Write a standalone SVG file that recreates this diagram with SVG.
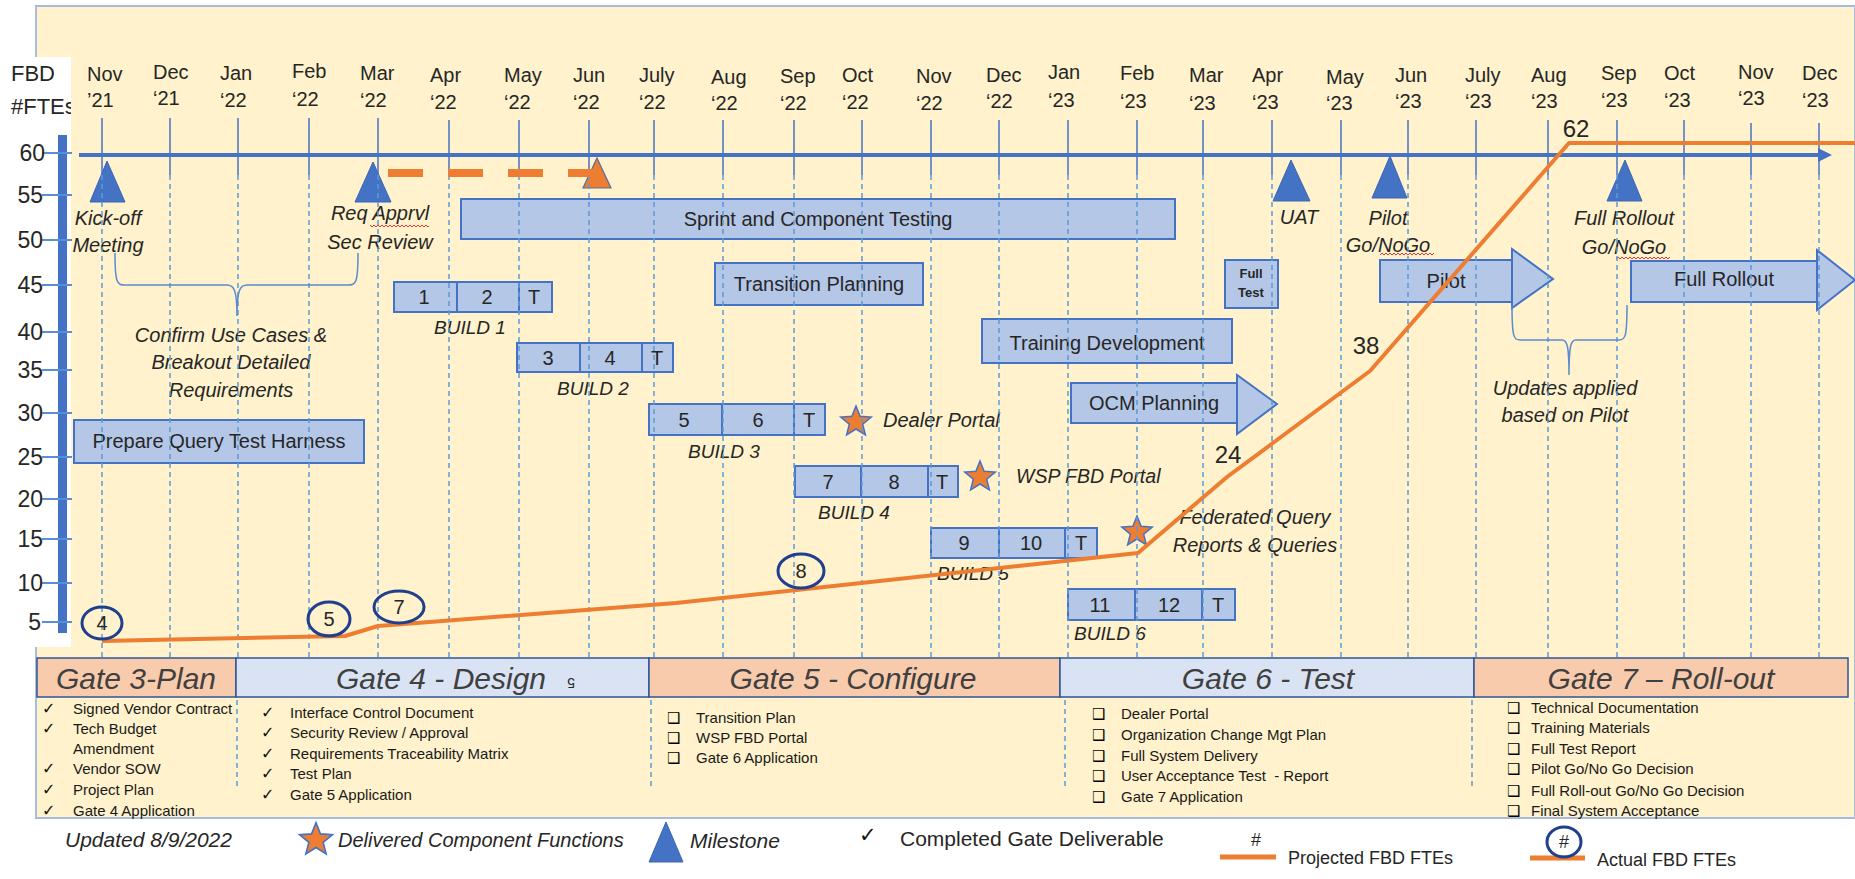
<svg xmlns="http://www.w3.org/2000/svg" width="1855" height="879" viewBox="0 0 1855 879">
<defs>
<style>
text{font-family:"Liberation Sans",Arial,sans-serif;fill:#262626}
.m{font-size:20px}
.yl{font-size:23px;text-anchor:end}
.box{fill:#B4C7E7;stroke:#4472C4;stroke-width:2}
.bt{font-size:20px;text-anchor:middle}
.ml{font-size:20px;font-style:italic;text-anchor:middle}
.bl{font-size:19px;font-style:italic;text-anchor:middle}
.tri{fill:#4472C4;stroke:#3A66B5;stroke-width:1}
.grid{stroke:#5B9BD5;stroke-width:1.5;stroke-dasharray:5 4;fill:none}
.gtop{stroke:#4472C4;stroke-width:1.5}
.gate{stroke:#2F5597;stroke-width:1.5}
.gt{font-size:30px;font-style:italic;fill:#404040;text-anchor:middle}
.li{font-size:15px;fill:#1a1a1a}
.ck{font-family:"DejaVu Sans",sans-serif;font-size:16px;fill:#111}
.cb{font-family:"DejaVu Sans",sans-serif;font-size:15px;font-weight:bold;fill:#000}
.act{fill:none;stroke:#1F3F8F;stroke-width:3}
.num{font-size:20px;text-anchor:middle}
.pl{font-size:24px;text-anchor:middle}
.brace{fill:none;stroke:#5B8BD0;stroke-width:1.5}
.tick{stroke:#5B8FD5;stroke-width:2}
</style>
<path id="star" d="M0,-16 L4.11,-5.66 L15.22,-4.94 L6.66,2.16 L9.4,12.94 L0,7 L-9.4,12.94 L-6.66,2.16 L-15.22,-4.94 L-4.11,-5.66 Z" fill="#ED7D31" stroke="#4472C4" stroke-width="1.5"/>
<pattern id="wv" width="4" height="4" patternUnits="userSpaceOnUse"><path d="M0,3 L2,1 L4,3" fill="none" stroke="#E02020" stroke-width="0.9"/></pattern>
<clipPath id="wclip"><rect x="0" y="57" width="71" height="590"/></clipPath>
</defs>

<!-- background -->
<rect x="0" y="0" width="1855" height="879" fill="#FFFFFF"/>
<rect x="36" y="6" width="1819" height="812" fill="#FFF2CC" stroke="#A9BCDD" stroke-width="2"/>
<rect x="0" y="57" width="71" height="590" fill="#FFFFFF"/>
<g clip-path="url(#wclip)">
<text x="11" y="81" style="font-size:22px">FBD</text>
<text x="11" y="114" style="font-size:22px">#FTEs</text>
</g>

<!-- y axis -->
<g id="yaxis">
<rect x="58" y="135" width="9" height="498" fill="#4472C4"/>
<g class="tick">
<line x1="42" y1="153" x2="72" y2="153"/><line x1="42" y1="195" x2="72" y2="195"/>
<line x1="42" y1="240" x2="72" y2="240"/><line x1="42" y1="285" x2="72" y2="285"/>
<line x1="42" y1="332" x2="72" y2="332"/><line x1="42" y1="370" x2="72" y2="370"/>
<line x1="42" y1="413" x2="72" y2="413"/><line x1="42" y1="457" x2="72" y2="457"/>
<line x1="42" y1="499" x2="72" y2="499"/><line x1="42" y1="539" x2="72" y2="539"/>
<line x1="42" y1="583" x2="72" y2="583"/><line x1="42" y1="622" x2="72" y2="622"/>
</g>
<text class="yl" x="45" y="161">60</text>
<text class="yl" x="43" y="203">55</text>
<text class="yl" x="43" y="248">50</text>
<text class="yl" x="43" y="293">45</text>
<text class="yl" x="43" y="340">40</text>
<text class="yl" x="43" y="378">35</text>
<text class="yl" x="43" y="421">30</text>
<text class="yl" x="43" y="465">25</text>
<text class="yl" x="43" y="507">20</text>
<text class="yl" x="43" y="547">15</text>
<text class="yl" x="43" y="591">10</text>
<text class="yl" x="41" y="630">5</text>
</g>

<!-- month labels -->
<g id="months" class="m">
<text x="87" y="81">Nov<tspan x="87" y="107">’21</tspan></text>
<text x="153" y="79">Dec<tspan x="153" y="105">‘21</tspan></text>
<text x="220" y="80">Jan<tspan x="220" y="107">‘22</tspan></text>
<text x="292" y="78">Feb<tspan x="292" y="106">‘22</tspan></text>
<text x="360" y="80">Mar<tspan x="360" y="107">‘22</tspan></text>
<text x="430" y="82">Apr<tspan x="430" y="109">‘22</tspan></text>
<text x="504" y="82">May<tspan x="504" y="109">‘22</tspan></text>
<text x="573" y="82">Jun<tspan x="573" y="109">‘22</tspan></text>
<text x="639" y="82">July<tspan x="639" y="109">‘22</tspan></text>
<text x="711" y="84">Aug<tspan x="711" y="110">‘22</tspan></text>
<text x="780" y="83">Sep<tspan x="780" y="110">‘22</tspan></text>
<text x="842" y="82">Oct<tspan x="842" y="109">‘22</tspan></text>
<text x="916" y="83">Nov<tspan x="916" y="110">‘22</tspan></text>
<text x="986" y="82">Dec<tspan x="986" y="108">‘22</tspan></text>
<text x="1048" y="79">Jan<tspan x="1048" y="107">‘23</tspan></text>
<text x="1120" y="80">Feb<tspan x="1120" y="108">‘23</tspan></text>
<text x="1189" y="82">Mar<tspan x="1189" y="110">‘23</tspan></text>
<text x="1252" y="82">Apr<tspan x="1252" y="109">‘23</tspan></text>
<text x="1326" y="84">May<tspan x="1326" y="110">‘23</tspan></text>
<text x="1395" y="82">Jun<tspan x="1395" y="108">‘23</tspan></text>
<text x="1465" y="82">July<tspan x="1465" y="108">‘23</tspan></text>
<text x="1531" y="82">Aug<tspan x="1531" y="108">‘23</tspan></text>
<text x="1601" y="80">Sep<tspan x="1601" y="107">‘23</tspan></text>
<text x="1664" y="80">Oct<tspan x="1664" y="107">‘23</tspan></text>
<text x="1738" y="79">Nov<tspan x="1738" y="105">‘23</tspan></text>
<text x="1802" y="80">Dec<tspan x="1802" y="107">‘23</tspan></text>
</g>

<!-- gates -->
<g id="gate3"><rect class="gate" x="37" y="658" width="199" height="39" fill="#F8CBAD"/><text class="gt" x="136" y="689">Gate 3-Plan</text></g>
<g id="gate4"><rect class="gate" x="236" y="658" width="413" height="39" fill="#DAE3F3"/><text class="gt" x="441" y="689">Gate 4 - Design</text><text x="571" y="688" transform="rotate(180 571 683)" style="font-size:14px" text-anchor="middle">5</text></g>
<g id="gate5"><rect class="gate" x="649" y="658" width="411" height="39" fill="#F8CBAD"/><text class="gt" x="853" y="689">Gate 5 - Configure</text></g>
<g id="gate6"><rect class="gate" x="1060" y="658" width="414" height="39" fill="#DAE3F3"/><text class="gt" x="1268" y="689">Gate 6 - Test</text></g>
<g id="gate7"><rect class="gate" x="1474" y="658" width="374" height="39" fill="#F8CBAD"/><text class="gt" x="1661" y="689">Gate 7 – Roll-out</text></g>

<!-- deliverables -->
<g id="del3">
<text class="ck" x="42" y="714">✓</text><text class="li" x="73" y="714">Signed Vendor Contract</text>
<text class="ck" x="42" y="734">✓</text><text class="li" x="73" y="734">Tech Budget</text>
<text class="li" x="73" y="754">Amendment</text>
<text class="ck" x="42" y="774">✓</text><text class="li" x="73" y="774">Vendor SOW</text>
<text class="ck" x="42" y="795">✓</text><text class="li" x="73" y="795">Project Plan</text>
<text class="ck" x="42" y="816">✓</text><text class="li" x="73" y="816">Gate 4 Application</text>
</g>
<g id="del4">
<text class="ck" x="261" y="718">✓</text><text class="li" x="290" y="718">Interface Control Document</text>
<text class="ck" x="261" y="738">✓</text><text class="li" x="290" y="738">Security Review / Approval</text>
<text class="ck" x="261" y="759">✓</text><text class="li" x="290" y="759">Requirements Traceability Matrix</text>
<text class="ck" x="261" y="779">✓</text><text class="li" x="290" y="779">Test Plan</text>
<text class="ck" x="261" y="800">✓</text><text class="li" x="290" y="800">Gate 5 Application</text>
</g>
<g id="del5">
<text class="cb" x="667" y="723">❑</text><text class="li" x="696" y="723">Transition Plan</text>
<text class="cb" x="667" y="743">❑</text><text class="li" x="696" y="743">WSP FBD Portal</text>
<text class="cb" x="667" y="763">❑</text><text class="li" x="696" y="763">Gate 6 Application</text>
</g>
<g id="del6">
<text class="cb" x="1092" y="719">❑</text><text class="li" x="1121" y="719">Dealer Portal</text>
<text class="cb" x="1092" y="740">❑</text><text class="li" x="1121" y="740">Organization Change Mgt Plan</text>
<text class="cb" x="1092" y="761">❑</text><text class="li" x="1121" y="761">Full System Delivery</text>
<text class="cb" x="1092" y="781">❑</text><text class="li" x="1121" y="781" xml:space="preserve">User Acceptance Test  - Report</text>
<text class="cb" x="1092" y="802">❑</text><text class="li" x="1121" y="802">Gate 7 Application</text>
</g>
<g id="del7">
<text class="cb" x="1507" y="713">❑</text><text class="li" x="1531" y="713">Technical Documentation</text>
<text class="cb" x="1507" y="733">❑</text><text class="li" x="1531" y="733">Training Materials</text>
<text class="cb" x="1507" y="754">❑</text><text class="li" x="1531" y="754">Full Test Report</text>
<text class="cb" x="1507" y="774">❑</text><text class="li" x="1531" y="774">Pilot Go/No Go Decision</text>
<text class="cb" x="1507" y="796">❑</text><text class="li" x="1531" y="796">Full Roll-out Go/No Go Decision</text>
<text class="cb" x="1507" y="816">❑</text><text class="li" x="1531" y="816">Final System Acceptance</text>
</g>

<!-- activity boxes -->
<g id="prepare"><rect class="box" x="74" y="420" width="290" height="43"/><text class="bt" x="219" y="448">Prepare Query Test Harness</text></g>
<g id="sprint"><rect class="box" x="461" y="199" width="714" height="40"/><text class="bt" x="818" y="226">Sprint and Component Testing</text></g>
<g id="transition"><rect class="box" x="715" y="263" width="208" height="42"/><text class="bt" x="819" y="291">Transition Planning</text></g>
<g id="training"><rect class="box" x="982" y="319" width="250" height="44"/><text class="bt" x="1107" y="350">Training Development</text></g>
<g id="ocm"><path class="box" d="M1071,383 H1237 V375 L1277,404 L1237,434 V423 H1071 Z"/><line x1="1237" y1="383" x2="1237" y2="423" stroke="#4472C4" stroke-width="2"/><text class="bt" x="1154" y="410">OCM Planning</text></g>
<g id="fulltest"><rect class="box" x="1225" y="260" width="53" height="48"/><text x="1251" y="278" text-anchor="middle" style="font-size:13px;font-weight:bold">Full</text><text x="1251" y="297" text-anchor="middle" style="font-size:13px;font-weight:bold">Test</text></g>
<g id="pilot"><path class="box" d="M1380,260 H1512 V249 L1553,279 L1512,308 V302 H1380 Z"/><line x1="1512" y1="260" x2="1512" y2="302" stroke="#4472C4" stroke-width="2"/><text class="bt" x="1446" y="288">Pilot</text></g>
<g id="fullrollout"><path class="box" d="M1631,261 H1817 V250 L1855,280 L1817,310 V302 H1631 Z"/><line x1="1817" y1="261" x2="1817" y2="302" stroke="#4472C4" stroke-width="2"/><text class="bt" x="1724" y="286">Full Rollout</text></g>

<!-- builds -->
<g id="build1"><rect class="box" x="394" y="282" width="158" height="30"/><line x1="457" y1="282" x2="457" y2="312" stroke="#4472C4" stroke-width="2"/><line x1="519" y1="282" x2="519" y2="312" stroke="#4472C4" stroke-width="2"/><text class="bt" x="424" y="304">1</text><text class="bt" x="487" y="304">2</text><text class="bt" x="534" y="304">T</text><text class="bl" x="470" y="334">BUILD 1</text></g>
<g id="build2"><rect class="box" x="517" y="343" width="156" height="29"/><line x1="580" y1="343" x2="580" y2="372" stroke="#4472C4" stroke-width="2"/><line x1="642" y1="343" x2="642" y2="372" stroke="#4472C4" stroke-width="2"/><text class="bt" x="548" y="365">3</text><text class="bt" x="610" y="365">4</text><text class="bt" x="657" y="365">T</text><text class="bl" x="593" y="395">BUILD 2</text></g>
<g id="build3"><rect class="box" x="649" y="404" width="176" height="31"/><line x1="722" y1="404" x2="722" y2="435" stroke="#4472C4" stroke-width="2"/><line x1="794" y1="404" x2="794" y2="435" stroke="#4472C4" stroke-width="2"/><text class="bt" x="684" y="427">5</text><text class="bt" x="758" y="427">6</text><text class="bt" x="809" y="427">T</text><text class="bl" x="724" y="458">BUILD 3</text></g>
<g id="build4"><rect class="box" x="795" y="466" width="163" height="31"/><line x1="861" y1="466" x2="861" y2="497" stroke="#4472C4" stroke-width="2"/><line x1="928" y1="466" x2="928" y2="497" stroke="#4472C4" stroke-width="2"/><text class="bt" x="828" y="489">7</text><text class="bt" x="894" y="489">8</text><text class="bt" x="942" y="489">T</text><text class="bl" x="854" y="519">BUILD 4</text></g>
<g id="build5"><rect class="box" x="931" y="528" width="166" height="30"/><line x1="999" y1="528" x2="999" y2="558" stroke="#4472C4" stroke-width="2"/><line x1="1065" y1="528" x2="1065" y2="558" stroke="#4472C4" stroke-width="2"/><text class="bt" x="964" y="550">9</text><text class="bt" x="1031" y="550">10</text><text class="bt" x="1081" y="550">T</text><text class="bl" x="973" y="580">BUILD 5</text></g>
<g id="build6"><rect class="box" x="1068" y="589" width="167" height="31"/><line x1="1135" y1="589" x2="1135" y2="620" stroke="#4472C4" stroke-width="2"/><line x1="1202" y1="589" x2="1202" y2="620" stroke="#4472C4" stroke-width="2"/><text class="bt" x="1100" y="612">11</text><text class="bt" x="1169" y="612">12</text><text class="bt" x="1218" y="612">T</text><text class="bl" x="1110" y="640">BUILD 6</text></g>

<!-- delivered components -->
<g id="dealer"><use href="#star" x="856" y="422"/><text x="883" y="427" style="font-size:20px;font-style:italic">Dealer Portal</text></g>
<g id="wsp"><use href="#star" x="980" y="477"/><text x="1016" y="483" style="font-size:19.5px;font-style:italic">WSP FBD Portal</text></g>
<g id="federated"><use href="#star" x="1137" y="532"/><text class="ml" x="1255" y="524">Federated Query</text><text class="ml" x="1255" y="552">Reports &amp; Queries</text></g>

<!-- milestones -->
<g id="kickoff"><polygon class="tri" points="107,161 125,202 90,202"/><text class="ml" x="108" y="225">Kick-off</text><text class="ml" x="108" y="252">Meeting</text></g>
<g id="reqapprvl"><polygon class="tri" points="373,162 391,202 355,202"/><text class="ml" x="380" y="220">Req Apprvl</text><rect x="370" y="224" width="59" height="4" fill="url(#wv)"/><text class="ml" x="380" y="249">Sec Review</text></g>
<g id="orangems"><polygon points="597,158 611,188 583,188" fill="#ED7D31" stroke="#5A6E9A" stroke-width="1.2"/></g>
<g id="uat"><polygon class="tri" points="1291,160 1310,201 1273,201"/><text class="ml" x="1299" y="224">UAT</text></g>
<g id="pilotgo"><polygon class="tri" points="1390,156 1407,198 1372,198"/><text class="ml" x="1388" y="225">Pilot</text><text class="ml" x="1388" y="252">Go/NoGo</text><rect x="1380" y="252" width="54" height="4" fill="url(#wv)"/></g>
<g id="fullgo"><polygon class="tri" points="1625,160 1642,201 1607,201"/><text class="ml" x="1624" y="225">Full Rollout</text><text class="ml" x="1624" y="254">Go/NoGo</text><rect x="1616" y="256" width="54" height="4" fill="url(#wv)"/></g>

<!-- notes -->
<g id="confirm"><text class="ml" x="231" y="342">Confirm Use Cases &amp;</text><text class="ml" x="231" y="369">Breakout Detailed</text><text class="ml" x="231" y="397">Requirements</text></g>
<g id="updates"><text class="ml" x="1565" y="395">Updates applied</text><text class="ml" x="1565" y="422">based on Pilot</text></g>

<!-- grid -->
<g id="grid">
<g class="gtop">
<line x1="102" y1="118" x2="102" y2="175"/><line x1="170" y1="118" x2="170" y2="175"/><line x1="238" y1="118" x2="238" y2="175"/><line x1="309" y1="118" x2="309" y2="175"/><line x1="378" y1="118" x2="378" y2="175"/><line x1="449" y1="120" x2="449" y2="175"/><line x1="519" y1="120" x2="519" y2="175"/><line x1="589" y1="120" x2="589" y2="175"/><line x1="654" y1="120" x2="654" y2="175"/><line x1="723" y1="120" x2="723" y2="175"/><line x1="794" y1="120" x2="794" y2="175"/><line x1="862" y1="120" x2="862" y2="175"/><line x1="931" y1="120" x2="931" y2="175"/><line x1="999" y1="120" x2="999" y2="175"/><line x1="1068" y1="120" x2="1068" y2="175"/><line x1="1137" y1="120" x2="1137" y2="175"/><line x1="1203" y1="120" x2="1203" y2="175"/><line x1="1272" y1="120" x2="1272" y2="175"/><line x1="1341" y1="120" x2="1341" y2="175"/><line x1="1408" y1="120" x2="1408" y2="175"/><line x1="1476" y1="120" x2="1476" y2="175"/><line x1="1548" y1="120" x2="1548" y2="175"/><line x1="1617" y1="120" x2="1617" y2="175"/><line x1="1684" y1="120" x2="1684" y2="175"/><line x1="1751" y1="123" x2="1751" y2="175"/><line x1="1819" y1="123" x2="1819" y2="175"/>
</g>
<g class="grid">
<line x1="102" y1="175" x2="102" y2="657"/><line x1="170" y1="175" x2="170" y2="657"/><line x1="238" y1="175" x2="238" y2="657"/><line x1="309" y1="175" x2="309" y2="657"/><line x1="378" y1="175" x2="378" y2="657"/><line x1="449" y1="175" x2="449" y2="657"/><line x1="519" y1="175" x2="519" y2="657"/><line x1="589" y1="175" x2="589" y2="657"/><line x1="654" y1="175" x2="654" y2="657"/><line x1="723" y1="175" x2="723" y2="657"/><line x1="794" y1="175" x2="794" y2="657"/><line x1="862" y1="175" x2="862" y2="657"/><line x1="931" y1="175" x2="931" y2="657"/><line x1="999" y1="175" x2="999" y2="657"/><line x1="1068" y1="175" x2="1068" y2="657"/><line x1="1137" y1="175" x2="1137" y2="657"/><line x1="1203" y1="175" x2="1203" y2="657"/><line x1="1272" y1="175" x2="1272" y2="657"/><line x1="1341" y1="175" x2="1341" y2="657"/><line x1="1408" y1="175" x2="1408" y2="657"/><line x1="1476" y1="175" x2="1476" y2="657"/><line x1="1548" y1="175" x2="1548" y2="657"/><line x1="1617" y1="175" x2="1617" y2="657"/><line x1="1684" y1="175" x2="1684" y2="657"/><line x1="1751" y1="175" x2="1751" y2="657"/><line x1="1819" y1="175" x2="1819" y2="657"/>
<line x1="237" y1="700" x2="237" y2="787"/><line x1="651" y1="700" x2="651" y2="787"/><line x1="1065" y1="700" x2="1065" y2="787"/><line x1="1472" y1="700" x2="1472" y2="790"/>
</g>
</g>

<!-- connectors -->
<g id="connectors">
<line x1="79" y1="155" x2="1822" y2="155" stroke="#4472C4" stroke-width="4"/>
<polygon points="1818,148 1832,155 1818,162" fill="#4472C4"/>
<line x1="388" y1="173" x2="597" y2="173" stroke="#ED7D31" stroke-width="8" stroke-dasharray="35 25"/>
<path class="brace" d="M115,253 C115,283 117,285 125,285 L227,285 C234,285 237,290 237,316 C237,290 240,285 247,285 L348,285 C356,285 358,283 358,253"/>
<path class="brace" d="M1512,305 C1512,338 1514,340 1520,340 L1562,340 C1567,340 1569,345 1569,375 C1569,345 1571,340 1576,340 L1619,340 C1625,340 1627,338 1627,305"/>
<polyline fill="none" stroke="#ED7D31" stroke-width="4" stroke-linejoin="round" points="102,641 345,636 378,626 676,603 1138,553 1227,477 1370,371 1569,143 1855,143"/>
</g>

<!-- projected labels -->
<g id="projected">
<text class="pl" x="1576" y="137">62</text>
<text class="pl" x="1366" y="354">38</text>
<text class="pl" x="1228" y="463">24</text>
</g>

<!-- actual FTE circles -->
<g id="actual">
<ellipse class="act" cx="102" cy="623" rx="20" ry="16"/><text class="num" x="102" y="630">4</text>
<ellipse class="act" cx="329" cy="619" rx="21" ry="17"/><text class="num" x="329" y="626">5</text>
<ellipse class="act" cx="399" cy="607" rx="25" ry="16"/><text class="num" x="399" y="614">7</text>
<ellipse class="act" cx="801" cy="571" rx="23" ry="17"/><text class="num" x="801" y="578">8</text>
</g>

<!-- legend -->
<g id="legend">
<text x="65" y="847" style="font-size:21px;font-style:italic">Updated 8/9/2022</text>
<use href="#star" x="316" y="840" transform="translate(316 840) scale(1.08) translate(-316 -840)"/>
<text x="338" y="847" style="font-size:20px;font-style:italic">Delivered Component Functions</text>
<polygon class="tri" points="666,822 683,862 649,862"/>
<text x="690" y="848" style="font-size:21px;font-style:italic">Milestone</text>
<text x="859" y="842" style="font-family:'DejaVu Sans',sans-serif;font-size:21px;fill:#111">✓</text>
<text x="900" y="846" style="font-size:21px">Completed Gate Deliverable</text>
<text x="1256" y="846" text-anchor="middle" style="font-size:18px">#</text>
<line x1="1220" y1="857" x2="1276" y2="857" stroke="#ED7D31" stroke-width="5"/>
<text x="1288" y="864" style="font-size:18px">Projected FBD FTEs</text>
<line x1="1530" y1="858" x2="1585" y2="858" stroke="#ED7D31" stroke-width="5"/>
<ellipse class="act" cx="1564" cy="842" rx="17" ry="15"/>
<text x="1564" y="848" text-anchor="middle" style="font-size:18px">#</text>
<text x="1597" y="866" style="font-size:18px">Actual FBD FTEs</text>
</g>
</svg>
